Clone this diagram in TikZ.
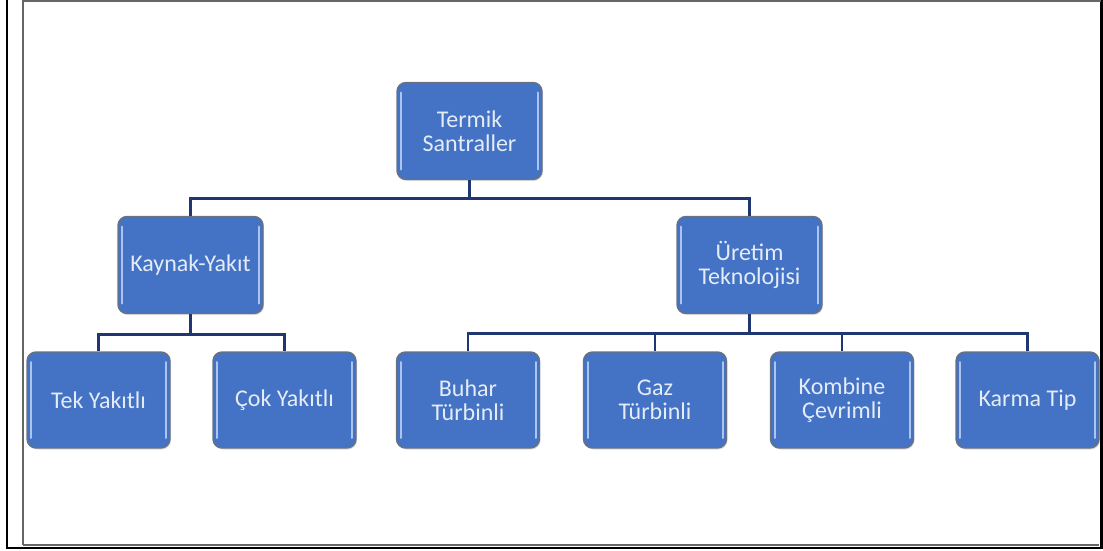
\documentclass[tikz,border=0pt]{standalone}
\usepackage{fontspec}
\setmainfont{Carlito}
\usetikzlibrary{shadows}
\definecolor{boxblue}{HTML}{4472C4}
\definecolor{boxedge}{HTML}{6A7180}
\definecolor{hlblue}{HTML}{A9C5F0}
\definecolor{navy}{HTML}{1F3670}
\definecolor{txt}{HTML}{E4ECF8}
\tikzset{
  box/.style={draw=boxedge, line width=1.4pt, fill=boxblue, rounded corners=9pt,
    minimum width=#1, text=txt, align=center, font=\fontsize{24}{24}\selectfont,
    inner sep=0pt,
    drop shadow={shadow xshift=1pt, shadow yshift=-1.5pt, opacity=0.25},
    path picture={
      \draw[hlblue, line width=2pt, line cap=round]
        ([xshift=4pt,yshift=-10pt]path picture bounding box.north west) --
        ([xshift=4pt,yshift=10pt]path picture bounding box.south west);
      \draw[hlblue, line width=2pt, line cap=round]
        ([xshift=-4pt,yshift=-10pt]path picture bounding box.north east) --
        ([xshift=-4pt,yshift=10pt]path picture bounding box.south east);
    }},
  topbox/.style={box=145pt, minimum height=97pt},
  leafbox/.style={box=143pt, minimum height=96pt},
  conn/.style={draw=navy, line width=2.6pt},
  outerline/.style={draw=black, line width=2.2pt},
  innerline/.style={draw=black!60, line width=2pt}
}
\begin{document}
\begin{tikzpicture}[x=1pt,y=-1pt]
\useasboundingbox (0,0) rectangle (1103,551);
% frame
\draw[outerline] (7,0) -- (7,548) -- (1101.5,548) -- (1101.5,0);
\draw[innerline] (22.5,545) -- (22.5,1) -- (1101,1);
\draw[innerline] (22.5,545) -- (1099,545);

% nodes
\node[topbox] (root) at (469.5,131) {Termik\\Santraller};
\node[topbox] (ky) at (190.5,265) {Kaynak-Yakıt};
\node[topbox] (ut) at (749.5,265) {Üretim\\Teknolojisi};
\node[leafbox] (tek) at (98.5,400) {Tek Yakıtlı};
\node[leafbox] (cok) at (284.5,400) {Çok Yakıtlı};
\node[leafbox] (buh) at (468,400) {Buhar\\Türbinli};
\node[leafbox] (gaz) at (655,400) {Gaz\\Türbinli};
\node[leafbox] (kom) at (842,400) {Kombine\\Çevrimli};
\node[leafbox] (kar) at (1027.5,400) {Karma Tip};

% connectors
\draw[conn] (root.south) -- ++(0,18) -| (ky.north);
\draw[conn] (root.south) ++(0,18) -| (ut.north);
\draw[conn] (ky.south) -- ++(0,20) -| (tek.north);
\draw[conn] (ky.south) ++(0,20) -| (cok.north);
\draw[conn] (ut.south) -- ++(0,19) -| (buh.north);
\draw[conn] (ut.south) ++(0,19) -| (gaz.north);
\draw[conn] (ut.south) ++(0,19) -| (kom.north);
\draw[conn] (ut.south) ++(0,19) -| (kar.north);
\end{tikzpicture}
\end{document}
